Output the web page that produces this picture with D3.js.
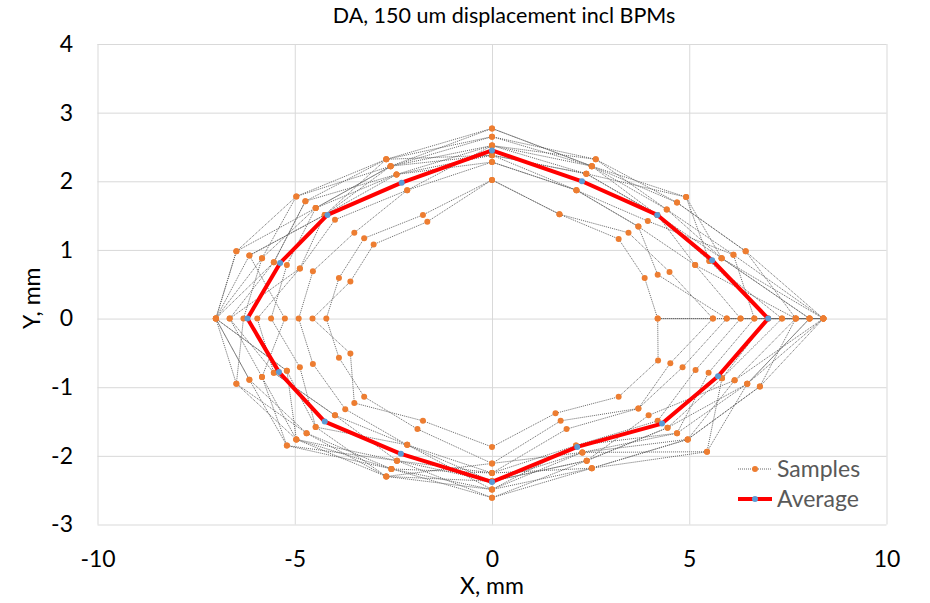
<!DOCTYPE html>
<html>
<head>
<meta charset="utf-8">
<script src="https://cdn.jsdelivr.net/npm/d3@7/dist/d3.min.js"></script>
<style>
  body { margin: 0; background: #fff; }
  svg { display: block; }
  text { font-family: Lato, "Open Sans", sans-serif; }
</style>
</head>
<body>
<svg id="chart" width="930" height="603"></svg>
<script>
// ---- data -------------------------------------------------------------
const chartTitle = "DA, 150 um displacement incl BPMs";
const xLabel = "X, mm";
const yLabel = "Y, mm";
const xTicks = [-10, -5, 0, 5, 10];
const yTicks = [-3, -2, -1, 0, 1, 2, 3, 4];
const seriesNames = ["Samples", "Average"];

// Aperture points found along each of the 16 scan directions (x, y in mm),
// outermost first.
const rayPoints = [
  [[8.4, 0], [8.05, 0], [7.7, 0], [7.35, 0], [7.0, 0], [6.65, 0], [6.3, 0], [5.95, 0], [5.6, 0], [4.2, 0]],
  [[6.43, 0.98], [6.12, 0.93], [5.82, 0.88], [5.51, 0.84], [5.15, 0.78], [4.5, 0.68], [4.2, 0.64], [3.87, 0.59]],
  [[4.92, 1.77], [4.69, 1.69], [4.43, 1.59], [4.19, 1.51], [3.95, 1.42], [3.71, 1.34], [3.46, 1.25], [3.21, 1.16]],
  [[2.63, 2.32], [2.53, 2.22], [2.39, 2.11], [2.14, 1.87], [1.71, 1.52]],
  [[0, 2.77], [0, 2.65], [0, 2.52], [0, 2.38], [0, 2.28], [0, 2.02]],
  [[-2.68, 2.32], [-2.57, 2.22], [-2.42, 2.1], [-2.15, 1.87], [-1.75, 1.51], [-1.64, 1.41]],
  [[-4.96, 1.78], [-4.73, 1.71], [-4.47, 1.61], [-4.24, 1.51], [-3.98, 1.44], [-3.49, 1.25], [-3.24, 1.17], [-3.0, 1.08]],
  [[-6.48, 0.98], [-6.15, 0.92], [-5.83, 0.88], [-5.53, 0.82], [-5.2, 0.78], [-4.87, 0.73], [-4.54, 0.69], [-3.88, 0.59], [-3.59, 0.54]],
  [[-7.0, 0], [-6.65, 0], [-6.3, 0], [-5.95, 0], [-5.6, 0], [-5.25, 0], [-4.9, 0], [-4.55, 0], [-4.2, 0]],
  [[-6.48, -0.95], [-6.15, -0.89], [-5.83, -0.85], [-5.53, -0.79], [-5.2, -0.76], [-4.87, -0.71], [-4.54, -0.66], [-3.88, -0.57], [-3.59, -0.51]],
  [[-5.2, -1.85], [-4.96, -1.76], [-4.7, -1.67], [-4.47, -1.58], [-3.98, -1.41], [-3.72, -1.32], [-3.49, -1.23], [-3.24, -1.14]],
  [[-2.68, -2.3], [-2.55, -2.19], [-2.41, -2.07], [-2.15, -1.84], [-1.89, -1.61], [-1.75, -1.49]],
  [[0, -2.61], [0, -2.49], [0, -2.37], [0, -2.25], [0, -2.11], [0, -1.87]],
  [[2.53, -2.18], [2.4, -2.07], [2.29, -1.95], [2.13, -1.85], [1.89, -1.61], [1.74, -1.49], [1.61, -1.38]],
  [[5.45, -1.94], [4.96, -1.76], [4.69, -1.67], [4.45, -1.59], [4.2, -1.49], [3.97, -1.41], [3.71, -1.31], [3.21, -1.14]],
  [[6.79, -0.99], [6.47, -0.95], [6.15, -0.9], [5.83, -0.87], [5.49, -0.79], [5.16, -0.75], [4.83, -0.71], [4.52, -0.65], [4.21, -0.61]]
];

// For every sample (seed), which point of each direction it reached.
const sampleRanks = [
  [0, 0, 1, 0, 1, 0, 0, 0, 0, 1, 0, 1, 0, 0, 1, 0],
  [4, 3, 0, 1, 0, 1, 2, 0, 0, 0, 2, 0, 1, 2, 0, 3],
  [1, 2, 2, 0, 2, 2, 1, 3, 1, 2, 1, 2, 2, 1, 3, 1],
  [5, 1, 4, 3, 3, 0, 3, 1, 0, 4, 3, 3, 1, 3, 2, 4],
  [9, 7, 7, 4, 5, 5, 7, 8, 7, 8, 6, 5, 5, 6, 7, 8],
  [8, 5, 6, 4, 5, 4, 6, 7, 8, 7, 7, 4, 4, 5, 6, 7],
  [2, 0, 1, 1, 1, 1, 0, 2, 2, 0, 1, 1, 1, 0, 1, 0],
  [6, 4, 3, 2, 2, 3, 4, 5, 3, 3, 4, 2, 3, 3, 4, 5],
  [7, 6, 5, 3, 4, 3, 5, 6, 6, 6, 5, 3, 3, 4, 6, 6],
  [0, 2, 0, 2, 3, 2, 2, 4, 4, 5, 3, 0, 2, 2, 1, 2],
  [3, 3, 3, 1, 2, 1, 3, 1, 5, 2, 0, 2, 0, 1, 3, 3],
  [0, 1, 2, 1, 0, 0, 1, 3, 0, 1, 2, 1, 3, 0, 0, 1],
  [2, 4, 5, 3, 4, 2, 3, 5, 1, 3, 4, 3, 2, 1, 5, 2],
  [1, 2, 3, 2, 3, 1, 2, 2, 0, 4, 1, 0, 4, 2, 2, 1]
];

// Mean aperture per direction.
const averageX = [7.0, 5.58, 4.19, 2.28, 0, -2.29, -4.17, -5.37, -6.2, -5.4, -4.24, -2.31, 0, 2.16, 4.31, 5.73];
const averageY = [0, 0.85, 1.51, 2.0, 2.45, 1.98, 1.51, 0.81, 0, -0.78, -1.5, -1.97, -2.38, -1.87, -1.53, -0.84];

// ---- layout -------------------------------------------------------------
const plot = { left: 97.5, right: 886.5, top: 44, bottom: 524.5 };
const colors = { grid: "#d9d9d9", sampleLine: "#666666", sampleDot: "#ED7D31",
                 avgLine: "#FF0000", avgDot: "#5B9BD5", legendText: "#595959" };
const fontSize = 23;

const svg = d3.select("#chart");
svg.append("rect").attr("width", 930).attr("height", 603).attr("fill", "#fff");

const x = d3.scaleLinear().domain([xTicks[0], xTicks[xTicks.length - 1]]).range([plot.left, plot.right]);
const y = d3.scaleLinear().domain([yTicks[0], yTicks[yTicks.length - 1]]).range([plot.bottom, plot.top]);

// Axes with full-length ticks acting as gridlines
const xAxis = svg.append("g")
  .attr("transform", `translate(0,${plot.bottom})`)
  .call(d3.axisBottom(x).tickValues(xTicks)
    .tickSize(-(plot.bottom - plot.top)).tickPadding(26));
const yAxis = svg.append("g")
  .attr("transform", `translate(${plot.left},0)`)
  .call(d3.axisLeft(y).tickValues(yTicks)
    .tickSize(-(plot.right - plot.left)).tickPadding(24.5));

const plainMinus = d => (d < 0 ? "-" + Math.abs(d) : String(d));
[xAxis, yAxis].forEach(g => {
  g.select(".domain").remove();
  g.selectAll(".tick line").attr("stroke", colors.grid).attr("stroke-width", 1);
  g.selectAll(".tick text").attr("fill", "#000").attr("font-size", fontSize)
    .attr("font-family", "Lato, 'Open Sans', sans-serif")
    .text(plainMinus);
});

// ---- samples: one continuous dotted path, each contour closed on its first point
const samplePolys = sampleRanks.map(ranks => ranks.map((r, dir) => rayPoints[dir][r]));
const samplePath = [];
samplePolys.forEach(poly => { poly.forEach(p => samplePath.push(p)); samplePath.push(poly[0]); });

const line = d3.line().x(d => x(d[0])).y(d => y(d[1]));

svg.append("path")
  .datum(samplePath)
  .attr("d", line)
  .attr("fill", "none")
  .attr("stroke", colors.sampleLine)
  .attr("stroke-width", 1)
  .attr("stroke-dasharray", "1 1");

svg.append("g").selectAll("circle")
  .data(samplePath)
  .join("circle")
  .attr("cx", d => x(d[0]))
  .attr("cy", d => y(d[1]))
  .attr("r", 3)
  .attr("fill", colors.sampleDot);

// ---- average contour
const avgPts = averageX.map((v, i) => [v, averageY[i]]);
svg.append("path")
  .datum(avgPts.concat([avgPts[0]]))
  .attr("d", line)
  .attr("fill", "none")
  .attr("stroke", colors.avgLine)
  .attr("stroke-width", 4)
  .attr("stroke-linejoin", "round");

svg.append("g").selectAll("circle")
  .data(avgPts)
  .join("circle")
  .attr("cx", d => x(d[0]))
  .attr("cy", d => y(d[1]))
  .attr("r", 3)
  .attr("fill", colors.avgDot);

// ---- titles
svg.append("text")
  .attr("x", 504).attr("y", 23)
  .attr("text-anchor", "middle")
  .attr("font-size", 21.5)
  .attr("fill", "#000")
  .text(chartTitle);

svg.append("text")
  .attr("x", (plot.left + plot.right) / 2).attr("y", 594)
  .attr("text-anchor", "middle")
  .attr("font-size", fontSize)
  .attr("fill", "#000")
  .text(xLabel);

svg.append("text")
  .attr("transform", `translate(40,${(plot.top + plot.bottom) / 2 + 14}) rotate(-90)`)
  .attr("text-anchor", "middle")
  .attr("font-size", fontSize)
  .attr("fill", "#000")
  .text(yLabel);

// ---- legend
const legend = svg.append("g");
const legendRows = [
  { name: seriesNames[0], y: 469, stroke: colors.sampleLine, width: 1, dash: "1 1", dot: colors.sampleDot },
  { name: seriesNames[1], y: 499, stroke: colors.avgLine, width: 4, dash: null, dot: colors.avgDot }
];
legendRows.forEach(row => {
  legend.append("line")
    .attr("x1", 738).attr("x2", 772).attr("y1", row.y).attr("y2", row.y)
    .attr("stroke", row.stroke).attr("stroke-width", row.width)
    .attr("stroke-dasharray", row.dash);
  legend.append("circle").attr("cx", 755).attr("cy", row.y).attr("r", 3).attr("fill", row.dot);
  legend.append("text")
    .attr("x", 777).attr("y", row.y).attr("dy", "0.35em")
    .attr("font-size", fontSize).attr("fill", colors.legendText)
    .text(row.name);
});
</script>
</body>
</html>
